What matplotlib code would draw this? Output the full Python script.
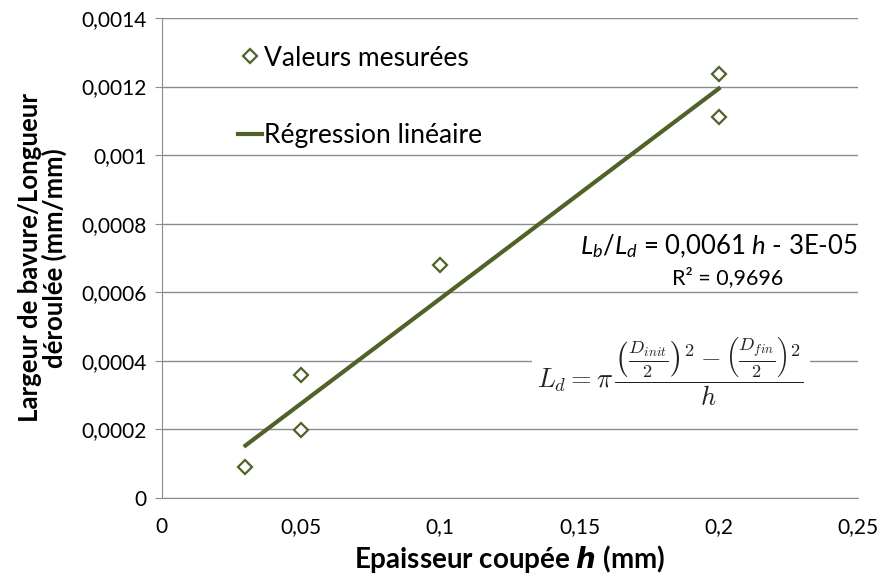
import numpy as np
import matplotlib
matplotlib.use('Agg')
import matplotlib.pyplot as plt
from matplotlib.ticker import FuncFormatter

# valeurs mesurées
epaisseur = [0.03, 0.05, 0.05, 0.1, 0.2, 0.2]
rapport = [0.00009, 0.000359, 0.000198, 0.000679, 0.001236, 0.001111]

x_ticks = [0, 0.05, 0.1, 0.15, 0.2, 0.25]
y_ticks = [0, 0.0002, 0.0004, 0.0006, 0.0008, 0.001, 0.0012, 0.0014]

couleur = '#4f6228'
gris = '#8c8c8c'

plt.rcParams['font.family'] = ['Lato', 'DejaVu Sans']
plt.rcParams['mathtext.fontset'] = 'custom'
plt.rcParams['mathtext.rm'] = 'Lato'
plt.rcParams['mathtext.it'] = 'Lato:italic'
plt.rcParams['mathtext.bf'] = 'Lato:bold'

fig = plt.figure(figsize=(8.8, 5.79), dpi=100)
ax = fig.add_axes([0.184, 0.140, 0.791, 0.829])

# régression linéaire
pente, ordonnee = np.polyfit(epaisseur, rapport, 1)
xr = np.array([min(epaisseur), max(epaisseur)])
ax.plot(xr, pente * xr + ordonnee, color=couleur, lw=3, label='Régression linéaire', zorder=3)
ax.plot(epaisseur, rapport, linestyle='none', marker='D', markersize=7,
        markerfacecolor='white', markeredgecolor=couleur, markeredgewidth=1.6,
        label='Valeurs mesurées', zorder=4)

ax.set_xlim(0, 0.25)
ax.set_ylim(0, 0.0014)
ax.set_xticks(x_ticks)
ax.set_yticks(y_ticks)
fmt = FuncFormatter(lambda v, p: ('%g' % v).replace('.', ','))
ax.xaxis.set_major_formatter(fmt)
ax.yaxis.set_major_formatter(FuncFormatter(lambda v, p: ('%.4f' % v).rstrip('0').rstrip('.').replace('.', ',') if v else '0'))
ax.tick_params(axis='x', length=0, labelsize=15, pad=14)
ax.tick_params(axis='y', length=5, color=gris, labelsize=15, pad=6)
ax.grid(axis='y', color=gris, lw=1)
ax.set_axisbelow(True)
for s in ['top', 'right']:
    ax.spines[s].set_visible(False)
for s in ['left', 'bottom']:
    ax.spines[s].set_color(gris)

ax.set_xlabel('Epaisseur coupée $\\mathbfit{h}$ (mm)', fontsize=20, fontweight='bold', labelpad=4)
ax.set_ylabel('Largeur de bavure/Longueur\ndéroulée (mm/mm)', fontsize=18.5, fontweight='bold',
              labelpad=10, linespacing=1.0)

h, l = ax.get_legend_handles_labels()
ax.legend(h[::-1], l[::-1], loc='upper left', bbox_to_anchor=(0.075, 0.992), frameon=False,
          fontsize=19, handlelength=0.9, handletextpad=0.1, labelspacing=2.0)

ax.text(0.999, 0.508, '$L_b$/$L_d$ = 0,0061 $h$ - 3E-05', transform=ax.transAxes,
        ha='right', va='baseline', fontsize=18.5)
ax.text(0.813, 0.446, 'R² = 0,9696', transform=ax.transAxes,
        ha='center', va='baseline', fontsize=15.5)
ax.text(0.731, 0.262,
        r'$L_d = \pi\,\dfrac{\left(\frac{D_{init}}{2}\right)^2 - \left(\frac{D_{fin}}{2}\right)^2}{h}$',
        transform=ax.transAxes, ha='center', va='center', fontsize=19, math_fontfamily='cm',
        color='#222222', bbox=dict(facecolor='white', edgecolor='none', pad=4))

fig.savefig('out.png', dpi=100)
